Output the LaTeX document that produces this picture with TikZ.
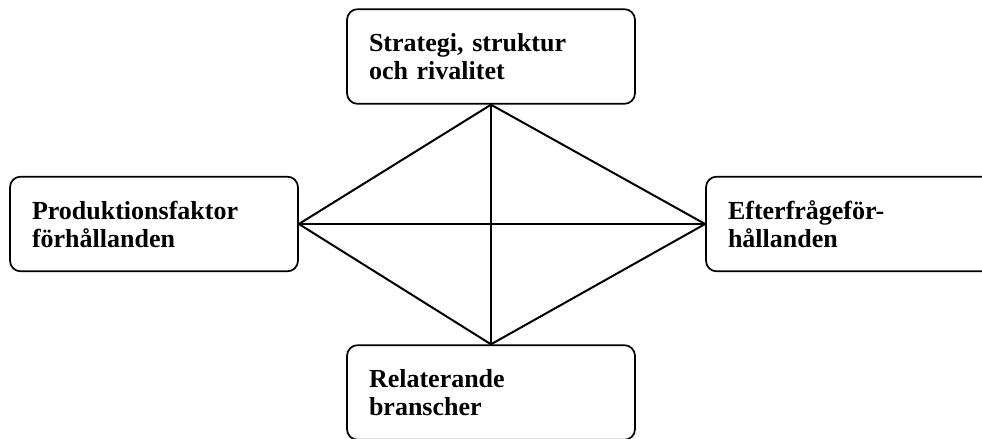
\documentclass[tikz,border=0pt]{standalone}
\usepackage{fontspec}
\setmainfont{Liberation Serif}

\begin{document}
\begin{tikzpicture}[x=0.75pt,y=-0.75pt,line width=1.3pt,
  ruta/.style={draw,rounded corners=8pt,minimum width=216pt,minimum height=71pt,
    text width=183pt,align=left,inner sep=0pt,
    font=\fontsize{19.5}{21}\selectfont\bfseries}]

\useasboundingbox (0,0) rectangle (982,439);
\clip (0,0) rectangle (982,439);

% boxes
\node[ruta] (strategi) at (491,56.5) {Strategi, struktur\\och rivalitet};
\node[ruta] (faktor) at (154,224) {Produktionsfaktor\\förhållanden};
\node[ruta] (efterfragan) at (850,224) {Efterfrågeför-\\hållanden};
\node[ruta] (relaterande) at (491,392.5) {Relaterande\\branscher};

% diamond and cross
\draw[line width=1.5pt] (faktor.east) -- (strategi.south) -- (efterfragan.west)
  -- (relaterande.north) -- cycle;
\draw[line width=1.5pt] (faktor.east) -- (efterfragan.west);
\draw[line width=1.5pt] (strategi.south) -- (relaterande.north);

\end{tikzpicture}
\end{document}
